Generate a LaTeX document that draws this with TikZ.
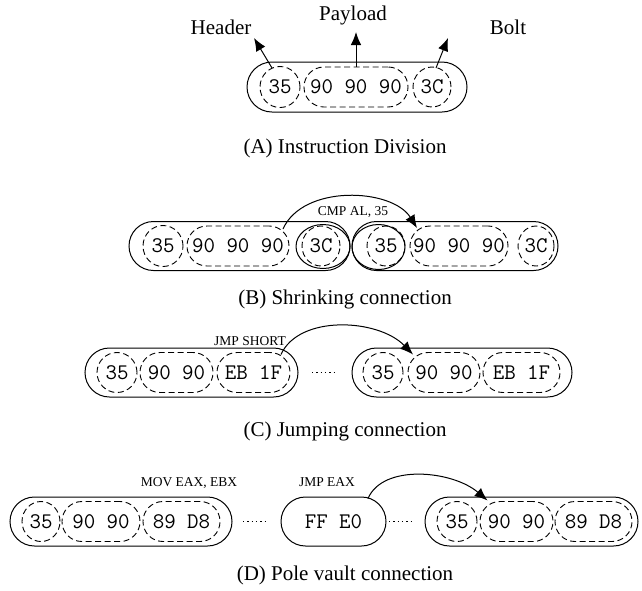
\documentclass[tikz,border=0pt]{standalone}
\usepackage{fontspec}
\setmainfont{Liberation Serif}
\usetikzlibrary{shapes.geometric,arrows.meta,calc}
\newcommand{\monof}{\fontsize{22.3}{24}\ttfamily}
\tikzset{
 outer/.style={draw, rectangle, rounded corners=24.5pt, line width=1pt, minimum height=49pt, inner sep=0pt, outer sep=0pt},
 dsh/.style={draw, line width=0.9pt, dash pattern=on 6pt off 3.5pt, inner sep=0pt, outer sep=0pt, font=\monof},
 dcirc/.style={dsh, ellipse, minimum width=40pt, minimum height=41pt},
 dpay/.style={dsh, rectangle, rounded corners=19.9pt, minimum height=40pt},
 scirc/.style={draw, ellipse, line width=1pt, minimum width=54pt, minimum height=44pt, inner sep=0pt},
 lab/.style={font=\fontsize{21}{24}\selectfont, inner sep=0pt},
 ins/.style={font=\fontsize{13.5}{15}\selectfont, inner sep=0pt},
 arr/.style={line width=1pt, -{Latex[length=13pt,width=10.5pt]}},
 dots/.style={line width=1.3pt, dash pattern=on 1.3pt off 3pt},
}
\begin{document}
\begin{tikzpicture}[x=1pt,y=-1pt]
\useasboundingbox (0,0) rectangle (642,590);
% ---------- (A)
\node[outer, minimum width=220pt, minimum height=50pt, rounded corners=25pt] (Aout) at (357,87) {};
\node[dcirc] (A35) at (280,87) {35};
\node[dpay, minimum width=104pt] (Apay) at (356,87) {90 90 90};
\node[dcirc, minimum width=38pt, minimum height=40pt] (A3C) at (432,87) {3C};
\node[lab] (hdr) at (221,27) {Header};
\node[lab] (pld) at (353,15) {Payload};
\node[lab] (blt) at (508,27) {Bolt};
\coordinate (hTip) at (254,38);
\coordinate (pTip) at (356,32);
\coordinate (bTip) at (448,38);
\draw[arr] ($(A35.center)+(-8,-19)$) -- (hTip);
\draw[arr] (Apay.north) -- (pTip);
\draw[arr] ($(A3C.center)+(4,-19)$) -- (bTip);
\node[lab] (capA) at (345,148) {(A) Instruction Division};
% ---------- (B)
\node[outer, minimum width=221pt] (B1) at (239.5,246) {};
\node[outer, minimum width=206pt] (B2) at (455,246) {};
\node[dcirc] (B35a) at (163,246) {35};
\node[dpay, minimum width=102pt] (Bpay1) at (238,246) {90 90 90};
\node[dcirc, minimum width=38pt, minimum height=40pt] (B3Ca) at (321,246) {3C};
\node[scirc] (Bs1) at (323,246.5) {};
\node[dcirc, minimum width=38pt, minimum height=40pt] (B35b) at (386,246) {35};
\node[scirc, minimum width=53pt, minimum height=45pt] (Bs2) at (378.5,247) {};
\node[dpay, minimum width=98pt] (Bpay2) at (459,246) {90 90 90};
\node[dcirc, minimum width=36pt, minimum height=40pt] (B3Cb) at (536,246) {3C};
\draw[arr] ($(Bpay1.north)+(45,3)$) .. controls +(20,-45) and +(-25,-40) .. ($(Bpay2.north)+(-42,2)$);
\node[ins] (cmp) at (353,212) {CMP AL, 35};
\node[lab] (capB) at (345,299) {(B) Shrinking connection};
% ---------- (C)
\node[outer, minimum width=213pt] (C1) at (191.5,372.5) {};
\node[dcirc, minimum height=40pt] (C35a) at (117,372.5) {35};
\node[dpay, minimum width=73pt] (Cpay1) at (176.5,372.5) {90 90};
\node[dpay, minimum width=73pt] (CEB1) at (253.5,372.5) {EB 1F};
\node[outer, minimum width=220pt] (C2) at (462,372.5) {};
\node[dcirc, minimum height=40pt] (C35b) at (383,372.5) {35};
\node[dpay, minimum width=72pt] (Cpay2) at (444,372.5) {90 90};
\node[dpay, minimum width=77pt] (CEB2) at (521.5,372.5) {EB 1F};
\draw[dots, shorten <=14pt, shorten >=17pt] (C1.east) -- (C2.west);
\draw[arr] ($(CEB1.north)+(27.5,2)$) .. controls +(18,-40) and +(-35,-36) .. ($(Cpay2.north)+(-31,2)$);
\node[ins] (jshort) at (250,341) {JMP SHORT};
\node[lab] (capC) at (345,431) {(C) Jumping connection};
% ---------- (D)
\node[outer, minimum width=222pt] (D1) at (121,521.5) {};
\node[dcirc, minimum width=38pt, minimum height=40pt] (D35a) at (41,521.5) {35};
\node[dpay, minimum width=78pt] (Dpay1) at (101,521.5) {90 90};
\node[dpay, minimum width=77pt] (D89a) at (181.5,521.5) {89 D8};
\node[outer, minimum width=105pt, font=\monof] (DFF) at (333.5,521.5) {FF E0};
\node[outer, minimum width=213pt] (D3) at (531.5,521.5) {};
\node[dcirc, minimum height=40pt] (D35b) at (457,521.5) {35};
\node[dpay, minimum width=73pt] (Dpay3) at (516.5,521.5) {90 90};
\node[dpay, minimum width=77pt] (D89b) at (593.5,521.5) {89 D8};
\draw[dots, shorten <=11pt, shorten >=14pt] (D1.east) -- (DFF.west);
\draw[dots, shorten <=3pt, shorten >=12pt] (DFF.east) -- (D3.west);
\draw[arr] ($(DFF.north)+(34.5,1.5)$) .. controls +(15,-35) and +(-35,-30) .. ($(Dpay3.north)+(-29,-1)$);
\node[ins] (mov) at (189,483) {MOV EAX, EBX};
\node[ins] (jeax) at (327,482) {JMP EAX};
\node[lab] (capD) at (345,575) {(D) Pole vault connection};
\end{tikzpicture}
\end{document}
